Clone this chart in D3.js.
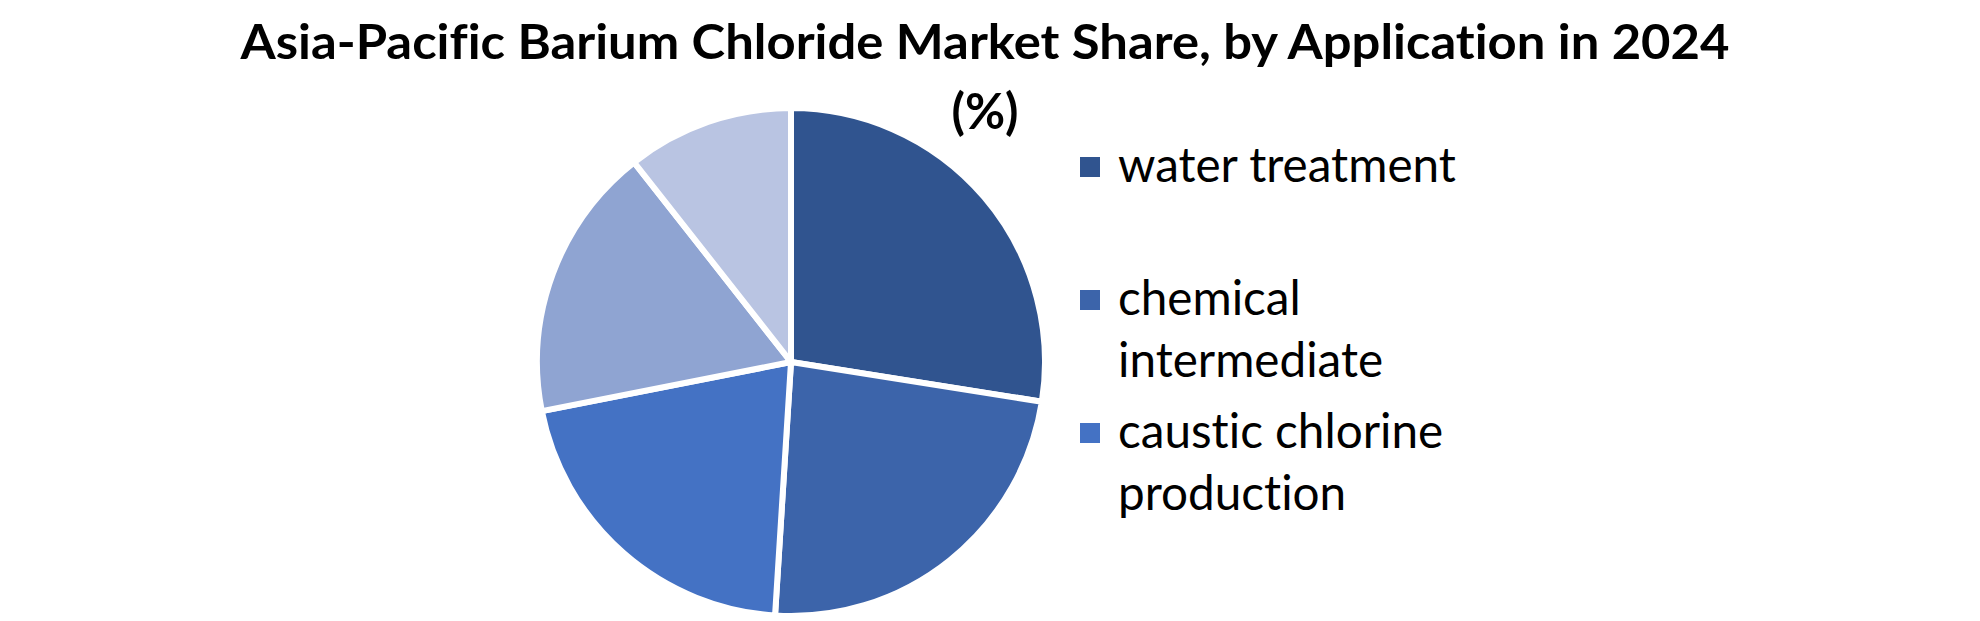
<!DOCTYPE html>
<html>
<head>
<meta charset="utf-8">
<script src="https://cdn.jsdelivr.net/npm/d3@7/dist/d3.min.js"></script>
<style>
  html, body { margin: 0; padding: 0; background: #ffffff; }
  svg { display: block; }
  text { font-variant-ligatures: none; font-feature-settings: "liga" 0, "clig" 0; }
</style>
</head>
<body>
<svg id="chart" width="1980" height="621"></svg>
<script>
// ---- data ----
const titleLines = ["Asia-Pacific Barium Chloride Market Share, by Application in 2024", "(%)"];
const categories = ["water treatment", "chemical intermediate", "caustic chlorine production", "pigments", "others"];
const values = [27.5, 23.5, 20.9, 17.5, 10.6];
const colors = ["#30548F", "#3C64AA", "#4472C4", "#8FA4D2", "#B9C4E2"];
const legendCount = 3; // only the first three entries are visible in the legend

// ---- layout ----
const W = 1980, H = 621;
const cx = 791, cy = 362, R = 254;
const svg = d3.select("#chart");

// title
const title = svg.append("g").attr("class", "title");
const titleBaselines = [59, 129];
titleLines.forEach((t, i) => {
  const el = title.append("text")
    .attr("x", 985).attr("y", titleBaselines[i])
    .attr("text-anchor", "middle")
    .style("font-family", "Lato, 'Open Sans', sans-serif")
    .style("font-weight", "bold")
    .style("font-size", i === 0 ? "48px" : "49px")
    .style("fill", "#000")
    .text(t);
  if (i === 0) {
    const len = el.node().getComputedTextLength();
    const target = 1489;
    if (Math.abs(len - target) > 4) {
      el.attr("textLength", target).attr("lengthAdjust", "spacingAndGlyphs");
    }
  }
});

// pie
const pie = d3.pie().sort(null).value(d => d)
  .startAngle(0).endAngle(2 * Math.PI);
const arc = d3.arc().innerRadius(0).outerRadius(R);
const arcs = pie(values);
svg.append("g").attr("transform", `translate(${cx},${cy})`)
  .selectAll("path").data(arcs).join("path")
  .attr("d", arc)
  .attr("fill", (d, i) => colors[i])
  .attr("stroke", "#ffffff")
  .attr("stroke-width", 6)
  .attr("stroke-linejoin", "round");

// legend
const legend = svg.append("g").attr("class", "legend");
const legX = 1080, textX = 1118, sq = 20;
const firstBaseline = 182, slot = 133, lineH = 62;
const fontSize = 44;
const maxW = 345;

function measure(txt) {
  const t = legend.append("text")
    .style("font-family", "Lato, 'Open Sans', sans-serif")
    .style("font-size", fontSize + "px").text(txt);
  const w = t.node().getComputedTextLength();
  t.remove();
  return w;
}
// scale legend font so that the first label matches the picture width
const scaleF = 338 / measure(categories[0]);
const legFont = fontSize * scaleF;

function wrap(txt) {
  const words = txt.split(" ");
  const lines = [];
  let cur = "";
  words.forEach(w => {
    const test = cur ? cur + " " + w : w;
    if (measure(test) * scaleF > maxW && cur) { lines.push(cur); cur = w; }
    else cur = test;
  });
  if (cur) lines.push(cur);
  return lines;
}

categories.slice(0, legendCount).forEach((c, i) => {
  const base = firstBaseline + i * slot;
  legend.append("rect")
    .attr("x", legX).attr("y", base - 25)
    .attr("width", sq).attr("height", sq)
    .attr("fill", colors[i]);
  const lines = wrap(c);
  const t = legend.append("text")
    .style("font-family", "Lato, 'Open Sans', sans-serif")
    .style("font-size", legFont + "px")
    .style("fill", "#000");
  lines.forEach((l, j) => {
    t.append("tspan").attr("x", textX).attr("y", base + j * lineH).text(l);
  });
});
</script>
</body>
</html>
